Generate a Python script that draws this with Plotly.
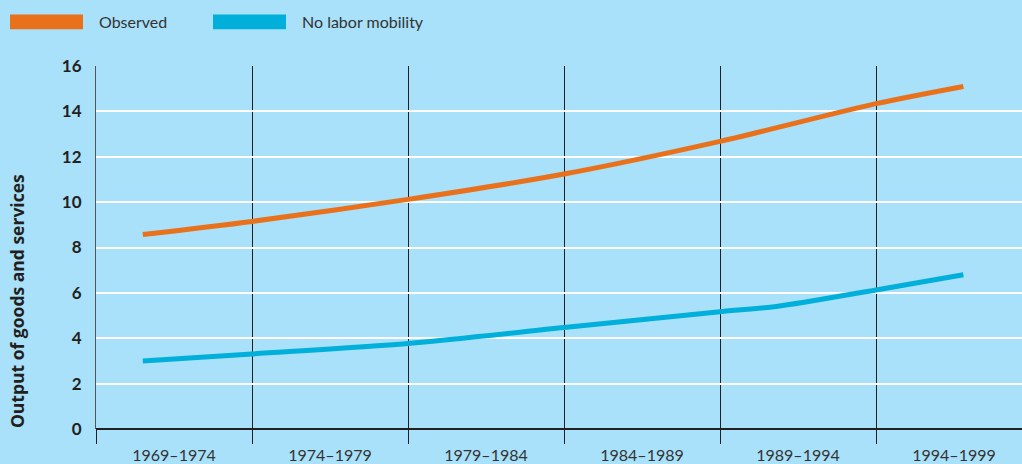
import plotly.graph_objects as go

# ---- data ----
periods = ["1969–1974", "1974–1979", "1979–1984", "1984–1989", "1989–1994", "1994–1999"]
period_starts = [1969, 1974, 1979, 1984, 1989, 1994, 1999]

observed_years = [1970.5, 1974, 1979, 1984, 1989, 1994, 1996.8]
observed = [8.57, 9.15, 10.12, 11.24, 12.68, 14.34, 15.1]

no_mobility_years = [1970.5, 1974, 1979, 1984, 1989, 1990.8, 1994, 1996.8]
no_mobility = [3.0, 3.31, 3.77, 4.47, 5.17, 5.4, 6.13, 6.8]

y_ticks = [0, 2, 4, 6, 8, 10, 12, 14, 16]

series_names = ["Observed", "No labor mobility"]

# ---- style ----
BG = "#a8e1f9"
ORANGE = "#e9711c"
BLUE = "#00b0da"
DARK = "#231f20"
TEXT = "#333333"
FONT = "Lato"

W, H = 1022, 464
ML, MR, MT, MB = 96, 0, 66, 32
PW, PH = W - ML - MR, H - MT - MB

def px_x(p):
    return (p - ML) / PW

def px_y(p):
    return (H - MB - p) / PH

period_centers = [(a + b) / 2 for a, b in zip(period_starts[:-1], period_starts[1:])]
x_end = period_starts[0] + PW / (156 / 5)

fig = go.Figure()
fig.add_trace(go.Scatter(x=observed_years, y=observed, mode="lines", name=series_names[0],
                         line=dict(color=ORANGE, width=5, shape="spline", smoothing=0.8),
                         showlegend=False))
fig.add_trace(go.Scatter(x=no_mobility_years, y=no_mobility, mode="lines", name=series_names[1],
                         line=dict(color=BLUE, width=5, shape="spline", smoothing=0.8),
                         showlegend=False))

# manual legend (wide bar swatches)
legend_items = [(series_names[0], ORANGE, 10), (series_names[1], BLUE, 213)]
for name, col, x0 in legend_items:
    fig.add_shape(type="rect", xref="paper", yref="paper",
                  x0=px_x(x0), x1=px_x(x0 + 73), y0=px_y(29), y1=px_y(14),
                  fillcolor=col, line=dict(width=0), layer="above")
    fig.add_annotation(xref="paper", yref="paper", x=px_x(x0 + 87), y=px_y(21.5),
                       text=name, showarrow=False, xanchor="left", yanchor="middle",
                       font=dict(family=FONT, size=16, color=TEXT))

# y-axis title
fig.add_annotation(xref="paper", yref="paper", x=px_x(17), y=px_y(303),
                   text="<b>Output of goods and services</b>", showarrow=False,
                   textangle=-90, xanchor="center", yanchor="middle",
                   font=dict(family="Open Sans", size=17.5, color=DARK))

fig.update_layout(
    width=W, height=H,
    margin=dict(l=ML, r=MR, t=MT, b=MB, pad=0),
    paper_bgcolor=BG, plot_bgcolor=BG,
    font=dict(family=FONT, color=DARK),
    xaxis=dict(
        range=[period_starts[0], x_end],
        tickmode="array", tickvals=period_centers, ticktext=periods,
        ticks="outside", ticklen=12, tickcolor="rgba(0,0,0,0)",
        showgrid=False, zeroline=False, showline=False,
        tickfont=dict(family=FONT, size=16, color=TEXT),
        minor=dict(tickmode="array", tickvals=period_starts, ticks="outside",
                   ticklen=14, tickcolor=DARK, tickwidth=1,
                   showgrid=True, gridcolor=DARK, gridwidth=1),
    ),
    yaxis=dict(
        range=[0, 16], tickmode="array", tickvals=y_ticks,
        ticks="outside", ticklen=10, tickcolor="rgba(0,0,0,0)",
        showgrid=True, gridcolor="white", gridwidth=1.5,
        zeroline=True, zerolinecolor=DARK, zerolinewidth=1.5,
        showline=True, linecolor="#555555", linewidth=1,
        tickfont=dict(family=FONT, size=17, color=DARK, weight="bold"),
    ),
)

fig.write_html("out.html", config={"displayModeBar": False},
               post_script="document.body.style.margin='0';document.body.style.overflow='hidden';")
